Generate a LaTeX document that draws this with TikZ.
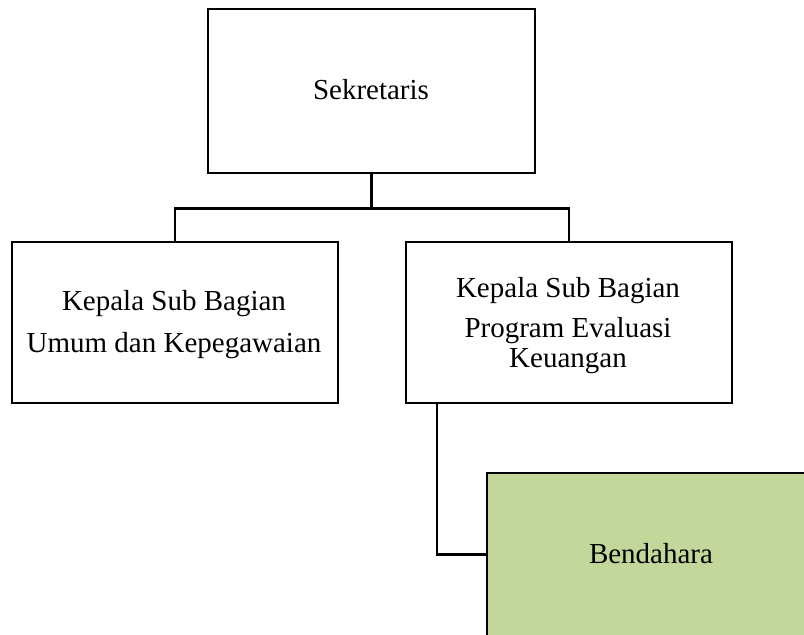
\documentclass[tikz,border=0pt]{standalone}
\usepackage{fontspec}
\setmainfont{Liberation Serif}
\usetikzlibrary{calc}
\definecolor{bendfill}{RGB}{196,215,155}
\begin{document}
\begin{tikzpicture}[x=1pt,y=-1pt,
  box/.style={draw=black, line width=2.5pt, inner sep=0pt, minimum width=326pt, minimum height=161pt},
  lbl/.style={anchor=base, inner sep=0pt, font=\fontsize{29}{34}\selectfont},
  link/.style={draw=black, line width=2.5pt}]
  \useasboundingbox (0,0) rectangle (804,635);
  \clip (0,0) rectangle (804,635);

  % boxes
  \node[box, minimum width=327pt, minimum height=164pt] (sek) at (371.5,91) {};
  \node[box] (umum) at (175,322.5) {};
  \node[box] (prog) at (569,322.5) {};
  \node[box, fill=bendfill, minimum width=330pt, minimum height=163pt] (bend) at (652,554.5) {};

  % labels
  \node[lbl] (t0) at (371,99) {Sekretaris};
  \node[lbl] (t1) at (174,310) {Kepala Sub Bagian};
  \node[lbl] (t2) at (174,352) {Umum dan Kepegawaian};
  \node[lbl] (t3) at (568,297) {Kepala Sub Bagian};
  \node[lbl] (t4) at (568,337) {Program Evaluasi};
  \node[lbl] (t5) at (568,367) {Keuangan};
  \node[lbl] (t6) at (651,563) {Bendahara};

  % connectors
  \coordinate (split) at ($(sek.south)+(0,34)$);
  \draw[link] (sek.south) -- (split);
  \draw[link] (split) -| (umum.north);
  \draw[link] (split) -| (prog.north);
  \draw[link] ($(prog.south west)+(32,0)$) |- (bend.west);
\end{tikzpicture}
\end{document}
